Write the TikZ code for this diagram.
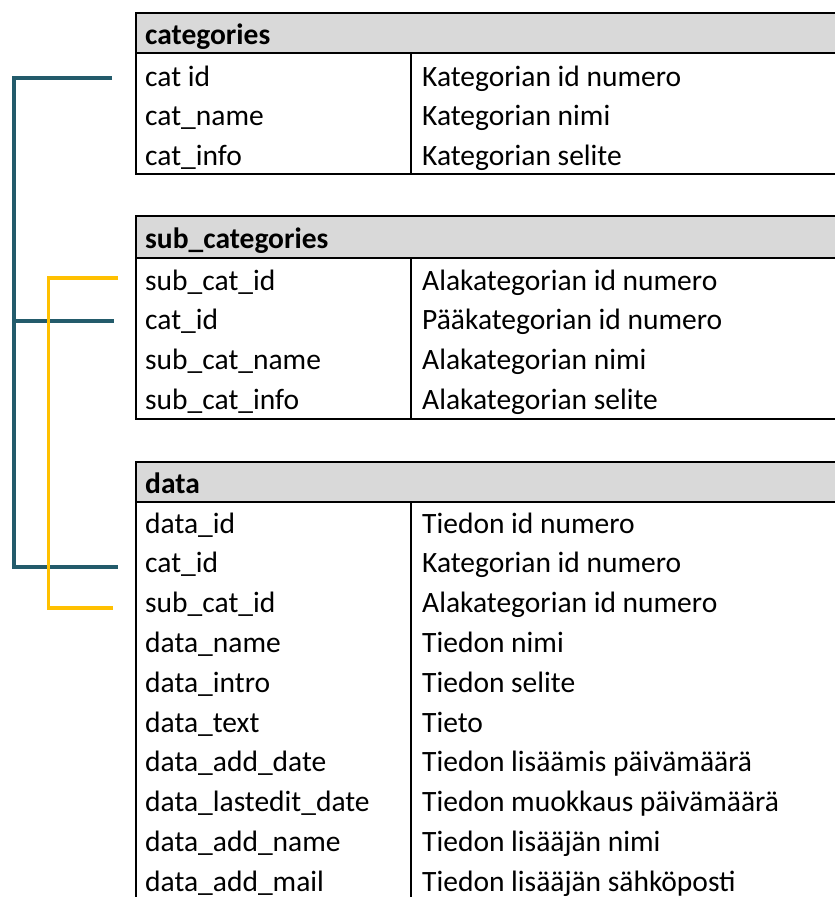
\documentclass[tikz,border=0pt]{standalone}
\usepackage{fontspec}
\setmainfont{Carlito}
\usetikzlibrary{positioning}

\definecolor{linkteal}{HTML}{235B6B}
\definecolor{linkgold}{HTML}{FFC000}
\definecolor{headgray}{HTML}{D9D9D9}

\tikzset{
    tabline/.style={line width=2.6pt},
    headbar/.style={fill=headgray},
    field/.style={anchor=base west, inner sep=0pt,
        font=\fontsize{29.5}{34}\selectfont},
    headtext/.style={field, font=\fontsize{29.5}{34}\selectfont\bfseries},
    catlink/.style={draw=linkteal, line width=3.6pt},
    sublink/.style={draw=linkgold, line width=3.4pt}
}

\begin{document}
\begin{tikzpicture}[x=1pt, y=-1pt]
    \useasboundingbox (0,0) rectangle (835,897);

    % Table: categories
    \fill[headbar] (136,13) rectangle (840,53);
    \draw[tabline] (840,13) -- (136,13) -- (136,174) -- (840,174);
    \draw[tabline] (136,53) -- (840,53);
    \draw[tabline] (411,53) -- (411,174);
    \node[headtext] (catsHead) at (145,44) {categories};
    \node[field] (catId) at (145,86) {cat id};
    \node[field] (catName) at (145,125.5) {cat\_name};
    \node[field] (catInfo) at (145,165) {cat\_info};
    \node[field] (catIdDesc) at (422,86) {Kategorian id numero};
    \node[field] (catNameDesc) at (422,125.5) {Kategorian nimi};
    \node[field] (catInfoDesc) at (422,165) {Kategorian selite};

    % Table: sub_categories
    \fill[headbar] (136,216) rectangle (840,258);
    \draw[tabline] (840,216) -- (136,216) -- (136,419) -- (840,419);
    \draw[tabline] (136,258) -- (840,258);
    \draw[tabline] (411,258) -- (411,419);
    \node[headtext] (subHead) at (145,248) {sub\_categories};
    \node[field] (subId) at (145,290) {sub\_cat\_id};
    \node[field] (subCatId) at (145,329.7) {cat\_id};
    \node[field] (subName) at (145,369.3) {sub\_cat\_name};
    \node[field] (subInfo) at (145,409) {sub\_cat\_info};
    \node[field] (subIdDesc) at (422,290) {Alakategorian id numero};
    \node[field] (subCatIdDesc) at (422,329.7) {Pääkategorian id numero};
    \node[field] (subNameDesc) at (422,369.3) {Alakategorian nimi};
    \node[field] (subInfoDesc) at (422,409) {Alakategorian selite};

    % Table: data (runs off the bottom edge)
    \fill[headbar] (136,462) rectangle (840,502);
    \draw[tabline] (840,462) -- (136,462) -- (136,905);
    \draw[tabline] (136,502) -- (840,502);
    \draw[tabline] (411,502) -- (411,905);
    \node[headtext] (dataHead) at (145,493) {data};
    \node[field] (dataId) at (145,533) {data\_id};
    \node[field] (dataCatId) at (145,572.8) {cat\_id};
    \node[field] (dataSubId) at (145,612.6) {sub\_cat\_id};
    \node[field] (dataName) at (145,652.4) {data\_name};
    \node[field] (dataIntro) at (145,692.2) {data\_intro};
    \node[field] (dataText) at (145,732) {data\_text};
    \node[field] (dataAddDate) at (145,771.8) {data\_add\_date};
    \node[field] (dataEditDate) at (145,811.6) {data\_lastedit\_date};
    \node[field] (dataAddName) at (145,851.4) {data\_add\_name};
    \node[field] (dataAddMail) at (145,891.2) {data\_add\_mail};
    \node[field] (dataIdDesc) at (422,533) {Tiedon id numero};
    \node[field] (dataCatIdDesc) at (422,572.8) {Kategorian id numero};
    \node[field] (dataSubIdDesc) at (422,612.6) {Alakategorian id numero};
    \node[field] (dataNameDesc) at (422,652.4) {Tiedon nimi};
    \node[field] (dataIntroDesc) at (422,692.2) {Tiedon selite};
    \node[field] (dataTextDesc) at (422,732) {Tieto};
    \node[field] (dataAddDateDesc) at (422,771.8) {Tiedon lisäämis päivämäärä};
    \node[field] (dataEditDateDesc) at (422,811.6) {Tiedon muokkaus päivämäärä};
    \node[field] (dataAddNameDesc) at (422,851.4) {Tiedon lisääjän nimi};
    \node[field] (dataAddMailDesc) at (422,891.2) {Tiedon lisääjän sähköposti};

    % Link ends beside the key rows
    \coordinate (catIdEnd) at (112,78);
    \coordinate (subCatIdEnd) at (114,321);
    \coordinate (dataCatIdEnd) at (118,567);
    \coordinate (subIdEnd) at (118,278);
    \coordinate (dataSubIdEnd) at (113,608);
    \coordinate (catTrunk) at (14,0);
    \coordinate (subTrunk) at (48.5,0);

    % cat_id links
    \draw[catlink] (catIdEnd) -- (catIdEnd -| catTrunk) -- (dataCatIdEnd -| catTrunk) -- (dataCatIdEnd);
    \draw[catlink] (subCatIdEnd -| catTrunk) -- (subCatIdEnd);

    % sub_cat_id links
    \draw[sublink] (subIdEnd) -- (subIdEnd -| subTrunk) -- (dataSubIdEnd -| subTrunk) -- (dataSubIdEnd);
\end{tikzpicture}
\end{document}
